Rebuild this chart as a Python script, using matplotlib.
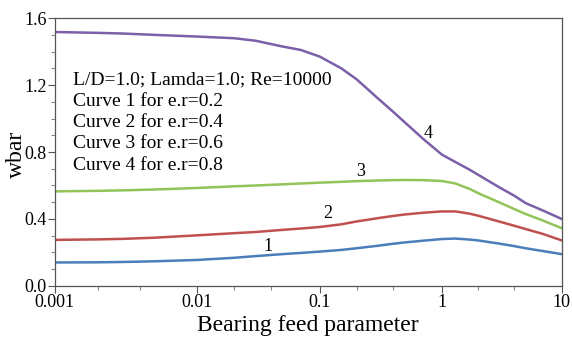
import numpy as np
import matplotlib
matplotlib.use("Agg")
import matplotlib.pyplot as plt
from matplotlib.ticker import FixedLocator, MultipleLocator, NullFormatter

plt.rcParams['font.family'] = ['Liberation Serif', 'DejaVu Serif']

# bearing feed parameter
feed = [0.001, 0.002, 0.003, 0.005, 0.01, 0.02, 0.03, 0.05, 0.07, 0.1, 0.15, 0.2,
        0.3, 0.4, 0.5, 0.7, 1, 1.3, 1.7, 2, 3, 4, 5, 7, 10]

# wbar for e.r = 0.2, 0.4, 0.6, 0.8
w_er02 = [0.14, 0.141, 0.143, 0.147, 0.155, 0.168, 0.178, 0.19, 0.197, 0.205, 0.215,
          0.225, 0.24, 0.252, 0.26, 0.27, 0.28, 0.283, 0.277, 0.272, 0.253, 0.238,
          0.225, 0.208, 0.19]
w_er04 = [0.275, 0.278, 0.281, 0.288, 0.302, 0.315, 0.322, 0.335, 0.343, 0.352, 0.368,
          0.385, 0.405, 0.418, 0.427, 0.437, 0.445, 0.445, 0.432, 0.42, 0.385, 0.36,
          0.34, 0.31, 0.272]
w_er06 = [0.565, 0.568, 0.571, 0.576, 0.585, 0.595, 0.60, 0.607, 0.612, 0.617, 0.622,
          0.626, 0.63, 0.632, 0.633, 0.632, 0.627, 0.612, 0.58, 0.555, 0.50, 0.46,
          0.43, 0.39, 0.345]
w_er08 = [1.517, 1.512, 1.508, 1.50, 1.49, 1.48, 1.465, 1.43, 1.41, 1.37, 1.30,
          1.235, 1.12, 1.04, 0.976, 0.88, 0.785, 0.74, 0.695, 0.665, 0.59, 0.54,
          0.495, 0.45, 0.40]

curves = [w_er02, w_er04, w_er06, w_er08]
colors = ['#4a7ebb', '#c0504d', '#92c45a', '#7b5fa8']
curve_ids = ['1', '2', '3', '4']
label_pos = [(0.038, 0.235), (0.117, 0.43), (0.215, 0.685), (0.77, 0.91)]

info = ["L/D=1.0; Lamda=1.0; Re=10000",
        "Curve 1 for e.r=0.2",
        "Curve 2 for e.r=0.4",
        "Curve 3 for e.r=0.6",
        "Curve 4 for e.r=0.8"]

# the decades on the original axis are not quite equal in width
dec_log = [-3, -2, -1, 0, 1]
dec_pos = [0, 142, 265, 387, 507]


def fwd(x):
    x = np.clip(np.asarray(x, dtype=float), 1e-12, None)
    return np.interp(np.log10(x), dec_log, dec_pos)


def inv(p):
    return 10 ** np.interp(np.asarray(p, dtype=float), dec_pos, dec_log)


fig = plt.figure(figsize=(5.72, 3.42), dpi=100)
ax = fig.add_axes([0.096, 0.164, 0.886, 0.783])

ax.set_xscale('function', functions=(fwd, inv))
ax.set_xlim(0.001, 10)
ax.set_ylim(0, 1.6)

for y, c in zip(curves, colors):
    ax.plot(feed, y, color=c, lw=1.8)

for t, (px, py) in zip(curve_ids, label_pos):
    ax.text(px, py, t, fontsize=13, ha='center', va='center')

for i, line in enumerate(info):
    ax.text(0.0355, 0.77 - i * 0.08, line, transform=ax.transAxes,
            fontsize=14, ha='left', va='center')

ax.xaxis.set_major_locator(FixedLocator([0.001, 0.01, 0.1, 1, 10]))
ax.set_xticklabels(['0.001', '0.01', '0.1', '1', '10'])
ax.xaxis.set_minor_locator(FixedLocator([0.002, 0.004, 0.02, 0.04, 0.2, 0.4, 2, 4]))
ax.xaxis.set_minor_formatter(NullFormatter())
ax.yaxis.set_major_locator(FixedLocator([0, 0.4, 0.8, 1.2, 1.6]))
ax.set_yticklabels(['0.0', '0.4', '0.8', '1.2', '1.6'])
ax.yaxis.set_minor_locator(MultipleLocator(0.1))

ax.tick_params(axis='both', which='major', labelsize=13, length=5, width=0.8,
               color='#555555', pad=1)
ax.tick_params(axis='both', which='minor', length=3, width=0.8, color='#888888')
for s in ax.spines.values():
    s.set_color('#555555')
    s.set_linewidth(0.9)

ax.set_xlabel("Bearing feed parameter", fontsize=17, labelpad=3)
ax.set_ylabel("wbar", fontsize=17)
ax.yaxis.set_label_coords(-0.056, 0.49)

fig.savefig("out.png", dpi=100)
